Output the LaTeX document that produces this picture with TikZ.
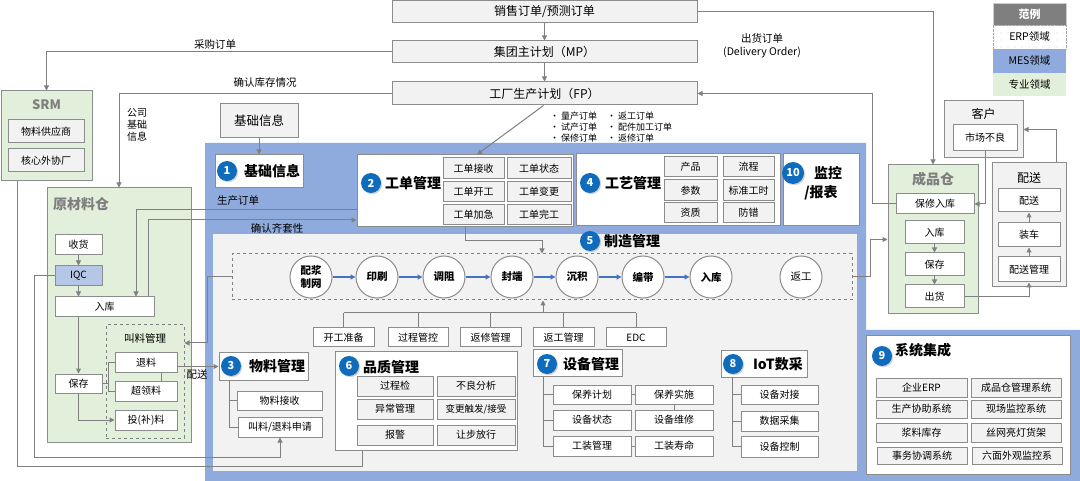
\documentclass[tikz,border=0pt]{standalone}
\usepackage{fontspec}
\setmainfont{Noto Sans CJK SC}
\usetikzlibrary{arrows.meta,shadows,patterns.meta}
\definecolor{lg}{HTML}{808080}
\definecolor{bd}{HTML}{8C8C8C}
\definecolor{gf}{HTML}{F2F2F2}
\definecolor{mes}{HTML}{8FAADC}
\definecolor{grn}{HTML}{E2EFDA}
\definecolor{iqcc}{HTML}{B4C7E7}
\definecolor{nb}{HTML}{0F6CBD}
\definecolor{flow}{HTML}{4472C4}
\definecolor{ttl}{HTML}{7F7F7F}
\newcommand\fsz[1]{\fontsize{#1}{\fpeval{1.2*#1}}\selectfont}
\newcommand\mybox[7]{\node[#1,inner sep=0pt,minimum width={(#5-#3)*1pt},minimum height={(#6-#4)*1pt}] (#2) at ({(#3+#5)/2},{(#4+#6)/2}) {#7};}
\begin{document}
\begin{tikzpicture}[x=1pt,y=-1pt,
  ln/.style={draw=lg, line width=1pt},
  arr/.style={ln, -{Triangle[length=5pt,width=5pt]}},
  farr/.style={draw=flow, line width=1.2pt, -{Triangle[length=5pt,width=5pt]}},
  gbox/.style={draw=bd, fill=gf, line width=1pt, font=\fsz{10}},
  wbox/.style={draw=bd, fill=white, line width=1pt, font=\fsz{10}},
  grbox/.style={draw=bd, fill=grn, line width=1pt},
  dashbox/.style={draw=lg, dashed, line width=1pt},
  numc/.style={circle, fill=nb, text=white, font=\fsz{11}\bfseries, minimum size=20pt, inner sep=0pt, drop shadow={opacity=0.35,shadow xshift=1.2pt,shadow yshift=-1.2pt}},
  big/.style={font=\fsz{14}\bfseries, inner sep=0pt},
  gtitle/.style={font=\fsz{14}\bfseries, text=ttl, inner sep=0pt},
  lbl/.style={font=\fsz{10.5}, inner sep=0pt},
  proc/.style={circle, draw=bd, fill=white, line width=1pt, minimum size=42pt, inner sep=0pt, font=\fsz{10.5}\bfseries, align=center}
]
\useasboundingbox (0,0) rectangle (1080,481);
\fill[white] (0,0) rectangle (1080,481);

% MES background
\fill[mes] (205,143) -- (866,143) -- (866,330) -- (1080,330) -- (1080,481) -- (205,481) -- cycle;
\fill[gf] (213,234) rectangle (857,471);

% top plans
\mybox{gbox,font=\fsz{12}}{so}{392}{1}{697}{23}{销售订单/预测订单}
\mybox{gbox,font=\fsz{12}}{mp}{392}{41}{697}{63}{集团主计划（MP）}
\mybox{gbox,font=\fsz{12}}{fp}{392}{82}{697}{105}{工厂生产计划（FP）}

\node[lbl] (l1) at (215,45) {采购订单};
\node[lbl] (l2) at (265,83) {确认库存情况};
\node[lbl, align=left, font=\fsz{10}] (l3) at (137,125) {公司\\基础\\信息};
\node[lbl, align=center] (l4) at (762,46) {出货订单\\(Delivery Order)};
\node[font=\fsz{9}, inner sep=0pt, anchor=west] (b1) at (550,116) {• 量产订单};
\node[font=\fsz{9}, inner sep=0pt, anchor=west] (b2) at (550,127) {• 试产订单};
\node[font=\fsz{9}, inner sep=0pt, anchor=west] (b3) at (550,138) {• 保修订单};
\node[font=\fsz{9}, inner sep=0pt, anchor=west] (b4) at (607,116) {• 返工订单};
\node[font=\fsz{9}, inner sep=0pt, anchor=west] (b5) at (607,127) {• 配件加工订单};
\node[font=\fsz{9}, inner sep=0pt, anchor=west] (b6) at (607,138) {• 返修订单};

% legend
\mybox{draw=gray!40, fill=ttl, text=white, font=\fsz{11}\bfseries}{lg1}{993}{3}{1066}{25}{范例}
\fill[pattern={Dots[distance=7pt,radius=0.45pt]}, pattern color=gray!80] (993,25) rectangle (1066,49);
\mybox{draw=gray!70, densely dotted, font=\fsz{10.5}}{lg2}{993}{25}{1066}{49}{ERP领域}
\mybox{fill=mes, font=\fsz{10.5}}{lg3}{993}{49}{1066}{73}{MES领域}
\mybox{fill=grn, font=\fsz{10.5}}{lg4}{993}{73}{1066}{96}{专业领域}

% SRM
\mybox{grbox}{srm}{1}{91}{92}{181}{}
\node[gtitle, font=\fsz{13}\bfseries] (srmt) at (46.5,105) {SRM};
\mybox{gbox}{wlgys}{8}{120}{84}{143}{物料供应商}
\mybox{gbox}{hxwx}{8}{149}{84}{172}{核心外协厂}

% raw material warehouse
\mybox{grbox}{ycl}{47}{188}{191}{442}{}
\node[gtitle] (yclt) at (81,204) {原材料仓};
\mybox{wbox}{sh}{55}{235}{102}{255}{收货}
\mybox{draw=bd, fill=iqcc, line width=1pt, font=\fsz{10}}{iqcn}{55}{266}{102}{286}{IQC}
\mybox{wbox}{rk}{55}{297}{154}{317}{入库}
\mybox{wbox}{bc}{55}{374}{102}{393}{保存}
\mybox{dashbox}{jlgl}{106}{325}{184}{438}{}
\node[lbl] (jlglt) at (145,338) {叫料管理};
\mybox{wbox}{tl}{115}{353}{177}{372}{退料}
\mybox{wbox}{cll}{115}{381}{177}{401}{超领料}
\mybox{wbox}{tbl}{115}{410}{177}{430}{投(补)料}
\node[lbl] (psl) at (197,375) {配送};

% customer / delivery
\mybox{gbox}{kh}{944}{101}{1023}{158}{}
\node[lbl, font=\fsz{12}] (kht) at (983.5,114) {客户};
\mybox{wbox}{scbl}{953}{125}{1017}{151}{市场不良}
\mybox{gbox}{psg}{992}{163}{1066}{287}{}
\node[lbl, font=\fsz{12}] (psgt) at (1029,178) {配送};
\mybox{wbox}{ps}{998}{189}{1060}{212}{配送}
\mybox{wbox}{zc}{998}{223}{1060}{247}{装车}
\mybox{wbox}{psgl}{998}{257}{1060}{282}{配送管理}

% finished goods warehouse
\mybox{grbox}{cpc}{888}{165}{978}{314}{}
\node[gtitle] (cpct) at (933,179) {成品仓};
\mybox{wbox}{bxrk}{896}{194}{974}{214}{保修入库}
\mybox{wbox}{rk2}{905}{221}{964}{244}{入库}
\mybox{wbox}{bc2}{905}{253}{964}{276}{保存}
\mybox{wbox}{ch}{905}{285}{964}{308}{出货}

% basic info
\mybox{gbox,font=\fsz{12.5}}{jcxx}{220}{104}{298}{138}{基础信息}
\mybox{wbox}{p1}{215}{155}{303}{188}{}
\node[numc] (n1) at (227,171) {1};
\node[big] (p1t) at (272,171) {基础信息};

% work order management
\mybox{wbox}{p2}{357}{155}{573}{227}{}
\node[numc] (n2) at (371,183) {2};
\node[big] (p2t) at (413,183) {工单管理};
\mybox{gbox}{gd1}{443}{158}{504}{179}{工单接收}
\mybox{gbox}{gd2}{507}{158}{571}{179}{工单状态}
\mybox{gbox}{gd3}{443}{182}{504}{202}{工单开工}
\mybox{gbox}{gd4}{507}{182}{571}{202}{工单变更}
\mybox{gbox}{gd5}{443}{205}{504}{225}{工单加急}
\mybox{gbox}{gd6}{507}{205}{571}{225}{工单完工}

% process management
\mybox{wbox}{p4}{576}{154}{780}{226}{}
\node[numc] (n4) at (590,183) {4};
\node[big] (p4t) at (633,183) {工艺管理};
\mybox{gbox}{gy1}{664}{157}{717}{177}{产品}
\mybox{gbox}{gy2}{723}{157}{774}{177}{流程}
\mybox{gbox}{gy3}{664}{180}{717}{201}{参数}
\mybox{gbox}{gy4}{723}{180}{774}{201}{标准工时}
\mybox{gbox}{gy5}{664}{203}{717}{223}{资质}
\mybox{gbox}{gy6}{723}{203}{774}{223}{防错}

% monitoring
\mybox{wbox}{p10}{783}{154}{859}{226}{}
\node[numc, minimum size=22pt] (n10) at (793,173) {10};
\node[big] (p10a) at (828,173) {监控};
\node[big] (p10b) at (821,193) {/报表};

% manufacturing management
\node[numc] (n5) at (590,241) {5};
\node[big] (p5t) at (632,241) {制造管理};
\mybox{dashbox}{dash}{232}{254}{852}{300}{}
\node[proc] (c1) at (311,277) {配浆\\制网};
\node[proc] (c2) at (377,277) {印刷};
\node[proc] (c3) at (444,277) {调阻};
\node[proc] (c4) at (512,277) {封端};
\node[proc] (c5) at (577,277) {沉积};
\node[proc] (c6) at (643,277) {编带};
\node[proc] (c7) at (711,277) {入库};
\node[proc, font=\fsz{10.5}] (c8) at (801,277) {返工};
\foreach \a/\b in {c1/c2,c2/c3,c3/c4,c4/c5,c5/c6,c6/c7} \draw[farr] (\a) -- (\b);

\mybox{wbox}{kg}{313}{328}{374}{347}{开工准备}
\mybox{wbox}{gc}{388}{328}{448}{347}{过程管控}
\mybox{wbox}{fx}{460}{328}{521}{347}{返修管理}
\mybox{wbox}{fg}{533}{328}{594}{347}{返工管理}
\mybox{wbox}{edc}{606}{328}{666}{347}{EDC}
\coordinate (t5) at (543,313);
\foreach \n in {kg,gc,fx,fg,edc} \draw[ln] (\n.north) -- (\n.north |- t5);
\draw[ln] (kg.north |- t5) -- (edc.north |- t5);
\draw[arr] (t5) -- (dash.south -| t5);

% material management
\mybox{wbox}{p3}{219}{353}{308}{380}{}
\node[numc] (n3) at (231,366) {3};
\node[big] (p3t) at (277,366) {物料管理};
\mybox{wbox}{wljs}{237}{391}{322}{410}{物料接收}
\mybox{wbox}{jl}{238}{417}{322}{437}{叫料/退料申请}
\draw[ln] ([xshift=-34.5pt]p3.south) |- (wljs.west);
\draw[ln] ([xshift=-34.5pt]p3.south) |- (jl.west);

% quality management
\mybox{wbox}{p6}{335}{352}{517}{450}{}
\node[numc] (n6) at (349,366) {6};
\node[big] (p6t) at (391,367) {品质管理};
\mybox{gbox}{q1}{357}{376}{433}{396}{过程检}
\mybox{gbox}{q2}{437}{376}{515}{396}{不良分析}
\mybox{gbox}{q3}{357}{399}{433}{419}{异常管理}
\mybox{gbox,font=\fsz{9.5}}{q4}{437}{399}{515}{419}{变更触发/接受}
\mybox{gbox}{q5}{357}{425}{433}{445}{报警}
\mybox{gbox}{q6}{437}{425}{515}{445}{让步放行}

% equipment management
\mybox{wbox}{p7}{533}{350}{622}{376}{}
\node[numc] (n7) at (547,364) {7};
\node[big] (p7t) at (591,364) {设备管理};
\mybox{wbox}{byjh}{553}{385}{631}{404}{保养计划}
\mybox{wbox}{byss}{635}{385}{713}{404}{保养实施}
\mybox{wbox}{sbzt}{553}{410}{631}{430}{设备状态}
\mybox{wbox}{sbwx}{635}{410}{713}{430}{设备维修}
\mybox{wbox}{gzgl}{553}{436}{631}{456}{工装管理}
\mybox{wbox}{gzsm}{635}{436}{713}{456}{工装寿命}
\foreach \n in {byjh,sbzt,gzgl} \draw[ln] ([xshift=-34.5pt]p7.south) |- (\n.west);
\draw[ln] (byjh.east) -- (byss.west);
\draw[ln] (byss.south) -- (sbwx.north);
\draw[ln] (gzgl.east) -- (gzsm.west);

% IoT
\mybox{wbox}{p8}{721}{351}{807}{377}{}
\node[numc] (n8) at (733,364) {8};
\node[big] (p8t) at (778,364) {IoT数采};
\mybox{wbox}{sbdj}{741}{385}{818}{404}{设备对接}
\mybox{wbox}{sjcj}{741}{411}{818}{431}{数据采集}
\mybox{wbox}{sbkz}{741}{436}{818}{457}{设备控制}
\foreach \n in {sbdj,sjcj,sbkz} \draw[ln] ([xshift=-32pt]p8.south) |- (\n.west);

% system integration
\mybox{wbox}{p9}{866}{336}{1070}{474}{}
\node[numc] (n9) at (882,356) {9};
\node[big] (p9t) at (923,350) {系统集成};
\mybox{gbox}{s1}{876}{378}{967}{397}{企业ERP}
\mybox{gbox}{s2}{971}{378}{1061}{397}{成品仓管理系统}
\mybox{gbox}{s3}{876}{400}{967}{418}{生产协助系统}
\mybox{gbox}{s4}{971}{400}{1061}{418}{现场监控系统}
\mybox{gbox}{s5}{876}{423}{967}{442}{浆料库存}
\mybox{gbox}{s6}{971}{423}{1061}{442}{丝网亮灯货架}
\mybox{gbox}{s7}{877}{447}{967}{464}{事务协调系统}
\mybox{gbox}{s8}{972}{447}{1062}{464}{六面外观监控系}

% connectors
\draw[arr] (so.south) -- (mp.north);
\draw[arr] (mp.south) -- (fp.north);
\draw[arr] (mp.west) -| (srm.north);
\draw[arr] (fp.west) -| (ycl.north);
\draw[arr] (so.east) -| (cpc.north);
\draw[arr] (bxrk.west) -- ++(-23,0) |- (fp.east);
\draw[arr] (scbl.south) |- (bxrk.east);
\draw[arr] ([xshift=27pt]psg.north) |- (kh.east);
\draw[arr] (ch.east) -| (psgl.south);
\draw[arr] (rk2.south) -- (bc2.north);
\draw[arr] (bc2.south) -- (ch.north);
\draw[arr] (psgl.north) -- (zc.south);
\draw[arr] (zc.north) -- (ps.south);
\draw[arr] (dash.east) -- ++(18,0) |- (cpc.west);
\draw[arr] (jcxx.south) -- (p1.north);
\draw[arr] ([xshift=-1pt]fp.south) -- ([xshift=12pt]p2.north);
\draw[arr] (p2.south) -- ++(0,13) -| (dash.north);
\draw[arr] ([yshift=-19pt]p2.west) -| ([xshift=31.5pt]rk.north);
\draw[arr] ([xshift=43.5pt]rk.north) |- ([yshift=-29pt]p2.west);
\node[lbl] (scdd) at (238,201) {生产订单};
\node[lbl] (qrqt) at (277,228) {确认齐套性};
\draw[arr] (sh.south) -- (iqcn.north);
\draw[arr] (iqcn.south) -- (iqcn.south |- rk.north);
\draw[arr] (bc.north |- rk.south) -- (bc.north);
\draw[arr] (bc.south) |- (tbl.west);
\draw[ln] (bc.east) -- ++(6,0) coordinate (br) |- (tl.west);
\draw[ln] (br) |- (cll.west);
\draw[ln] ([xshift=15pt]tl.south) -- ([xshift=15pt]cll.north);
\draw[arr] (tl.east |- p3.west) -- (p3.west);
\draw[arr] (dash.west) -- ++(-24,0) |- ([yshift=38.5pt]jlgl.east);
\coordinate (qa) at (34,457);
\draw[arr] (iqcn.west) -| (qa) -| (jl.south);
\coordinate (sa) at (17,466);
\draw[ln] (srm.south -| sa) -- (sa) -| ([xshift=-64pt]p6.south);
\end{tikzpicture}
\end{document}
